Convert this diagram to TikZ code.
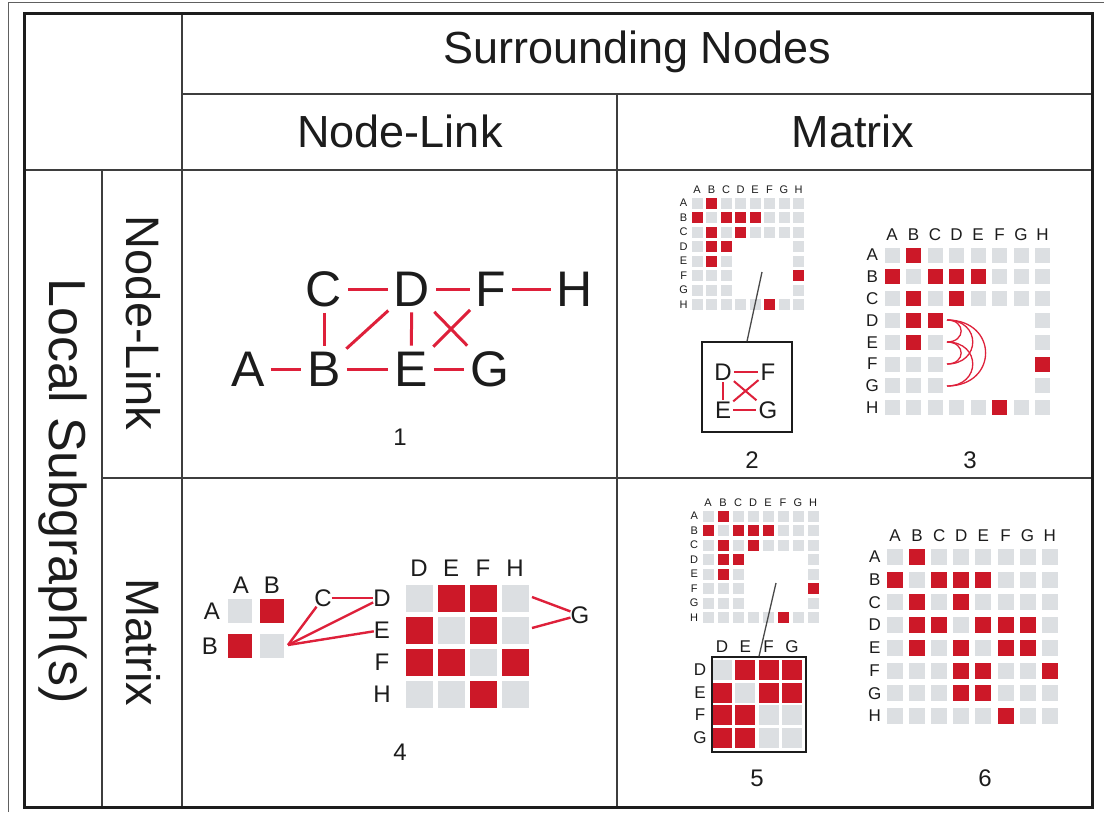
\documentclass[tikz,border=0pt]{standalone}
\usepackage{fontspec}
\setmainfont{Liberation Sans}

\definecolor{ink}{RGB}{28,28,28}
\definecolor{cellred}{RGB}{204,24,40}
\definecolor{linkred}{RGB}{222,32,58}
\definecolor{cellgray}{RGB}{220,223,226}

\newcommand{\fs}[1]{\fontsize{#1}{#1}\selectfont}

% red cells of the matrices (row/column index, A=1)
\def\partialred{1/2,2/1,2/3,2/4,2/5,3/2,3/4,4/2,4/3,5/2,6/8,8/6}
\def\fullred{1/2,2/1,2/3,2/4,2/5,3/2,3/4,4/2,4/3,4/5,4/6,4/7,5/2,5/4,5/6,5/7,6/4,6/5,6/8,7/4,7/5,8/6}

\tikzset{
  tableframe/.style={line width=3pt, draw=ink},
  tableline/.style={line width=1.8pt, draw=ink!85},
  head/.style={font=\fs{45}, text=ink},
  glyph/.style={font=\fs{50}, text=ink, inner sep=4pt},
  small/.style={font=\fs{24}, text=ink, inner sep=2pt},
  mlabel/.style={text=ink, inner sep=0pt},
  link/.style={draw=linkred, line width=3pt, shorten >=2pt, shorten <=2pt},
  thinlink/.style={draw=linkred, line width=2.4pt},
  arcline/.style={draw=linkred, line width=1.3pt},
  callout/.style={draw=ink!80, line width=1.3pt},
  redcell/.style={fill=cellred, inner sep=0pt},
  graycell/.style={fill=cellgray, inner sep=0pt},
}

% #1 name, #2/#3 centre of cell AA, #4/#5 pitch, #6 cell size,
% #7 label size, #8 leave D-G block empty (1/0), #9 red cells
\newcommand{\adjmat}[9]{%
  \foreach \rw [count=\i] in {A,B,C,D,E,F,G,H} {
    \node[mlabel, font=\fs{#7}] (#1-row\rw) at ({#2-0.92*#4},{#3+(\i-1)*#5}) {\rw};
    \node[mlabel, font=\fs{#7}] (#1-col\rw) at ({#2+(\i-1)*#4},{#3-0.92*#5}) {\rw};
    \foreach \cl [count=\j] in {A,B,C,D,E,F,G,H} {
      \pgfmathtruncatemacro\inblock{(\i>3)*(\i<8)*(\j>3)*(\j<8)*#8}
      \ifnum\inblock=0
        \node[graycell, minimum size=#6] (#1-\rw\cl) at ({#2+(\j-1)*#4},{#3+(\i-1)*#5}) {};
      \fi
    }
  }
  \foreach \i/\j in #9 {
    \node[redcell, minimum size=#6] (#1-on\i\j) at ({#2+(\j-1)*#4},{#3+(\i-1)*#5}) {};
  }
}

\begin{document}
\begin{tikzpicture}[x=1pt, y=-1pt]
  \useasboundingbox (0,0) rectangle (1104,812);
  \fill[white] (0,0) rectangle (1104,812);
  \draw[ink!70, line width=0.8pt] (8,812) |- (1104,2);

  % table
  \draw[tableline] (182,13) -- (182,807);
  \draw[tableline] (182,94) -- (1092,94);
  \draw[tableline] (24,170) -- (1092,170);
  \draw[tableline] (102,170) -- (102,807);
  \draw[tableline] (102,478) -- (1092,478);
  \draw[tableline] (617,94) -- (617,807);
  \draw[tableframe] (24,13) rectangle (1092,807);

  % headers
  \node[head] (surround) at (637,52) {Surrounding Nodes};
  \node[head] (colnl) at (400,131) {Node-Link};
  \node[head] (colmx) at (853,131) {Matrix};
  \node[head, font=\fs{52}, rotate=-90] (local) at (63,491) {Local Subgraph(s)};
  \node[head, font=\fs{47}, rotate=-90] (rownl) at (143,323) {Node-Link};
  \node[head, font=\fs{47}, rotate=-90] (rowmx) at (143,642) {Matrix};

  % 1: node-link in node-link
  \node[glyph] (A) at (248,369) {A};
  \node[glyph] (B) at (324,369) {B};
  \node[glyph] (E) at (411,369) {E};
  \node[glyph] (G) at (490,369) {G};
  \node[glyph] (C) at (324,289) {C};
  \node[glyph] (D) at (412,289) {D};
  \node[glyph] (F) at (491,289) {F};
  \node[glyph] (H) at (575,289) {H};
  \foreach \u/\v in {A/B,B/E,E/G,C/D,D/F,F/H,C/B,D/E,B/D,D/G,F/E}
    \draw[link] (\u) -- (\v);
  \node[small] (n1) at (400,437) {1};

  % 2: matrix with node-link inset
  \adjmat{m2}{697}{203}{14.5}{14.5}{11}{11}{1}{\partialred}
  \node[draw=ink, line width=1.3pt, minimum width=90, minimum height=90] (box2) at (747,387) {};
  \node[small] (D2) at (723,372) {D};
  \node[small] (F2) at (768,372) {F};
  \node[small] (E2) at (723,410) {E};
  \node[small] (G2) at (768,410) {G};
  \foreach \u/\v in {D2/F2,D2/E2,D2/G2,F2/E2,E2/G2}
    \draw[draw=linkred, line width=2pt] (\u) -- (\v);
  \coordinate (gap2) at (762,272);
  \draw[callout] (gap2) -- (box2.north);
  \node[small] (n2) at (752,460) {2};

  % 3: matrix with arcs
  \adjmat{m3}{892}{255}{21.5}{21.8}{15}{17}{1}{\partialred}
  \coordinate (a3D) at (947,320);
  \coordinate (a3E) at (947,342);
  \coordinate (a3F) at (947,364);
  \coordinate (a3G) at (947,386);
  \draw[arcline] (a3D) to[out=0, in=0, looseness=2.2] (a3E);
  \draw[arcline] (a3D) to[out=0, in=0, looseness=2] (a3F);
  \draw[arcline] (a3D) to[out=0, in=0, looseness=2] (a3G);
  \draw[arcline] (a3E) to[out=0, in=0, looseness=2.2] (a3F);
  \draw[arcline] (a3E) to[out=0, in=0, looseness=2] (a3G);
  \node[small] (n3) at (970,460) {3};

  % 4: two matrices joined by links
  \node[mlabel, font=\fs{24}] (r4A) at (212,611) {A};
  \node[mlabel, font=\fs{24}] (r4B) at (210,646) {B};
  \node[mlabel, font=\fs{24}] (c4A) at (241,585) {A};
  \node[mlabel, font=\fs{24}] (c4B) at (272,585) {B};
  \node[graycell, minimum size=24] (m4-AA) at (240,611) {};
  \node[redcell, minimum size=24] (m4-AB) at (272,611) {};
  \node[redcell, minimum size=24] (m4-BA) at (240,646) {};
  \node[graycell, minimum size=24] (m4-BB) at (272,646) {};
  \foreach \rw [count=\i] in {D,E,F,H} {
    \node[mlabel, font=\fs{24}] (r4\rw) at (382,{598+(\i-1)*32}) {\rw};
    \node[mlabel, font=\fs{24}] (c4\rw) at ({419+(\i-1)*32},568) {\rw};
    \foreach \cl [count=\j] in {D,E,F,H}
      \node[graycell, minimum size=27] (m4-\rw\cl) at ({419+(\j-1)*32},{598+(\i-1)*32}) {};
  }
  \foreach \i/\j in {1/2,1/3,2/1,2/3,3/1,3/2,3/4,4/3}
    \node[redcell, minimum size=27] (m4-on\i\j) at ({419+(\j-1)*32},{598+(\i-1)*32}) {};
  \node[mlabel, font=\fs{24}] (C4) at (323,598) {C};
  \node[mlabel, font=\fs{24}] (G4) at (580,615) {G};
  \coordinate (b4) at (288,645);
  \coordinate (d4end) at (532,597);
  \coordinate (e4end) at (532,628);
  \draw[thinlink] (b4) -- (C4);
  \draw[thinlink] (b4) -- (r4D);
  \draw[thinlink] (b4) -- (r4E);
  \draw[thinlink] (C4) -- (r4D);
  \draw[thinlink] (d4end) -- (G4);
  \draw[thinlink] (e4end) -- (G4);
  \node[small] (n4) at (400,752) {4};

  % 5: matrix with matrix inset
  \adjmat{m5}{708}{516}{15}{14.5}{11}{11}{1}{\partialred}
  \foreach \rw [count=\i] in {D,E,F,G} {
    \node[mlabel, font=\fs{17}] (r5\rw) at (700,{670+(\i-1)*22.5}) {\rw};
    \node[mlabel, font=\fs{17}] (c5\rw) at ({722+(\i-1)*23.3},647) {\rw};
    \foreach \cl [count=\j] in {D,E,F,G}
      \node[graycell, minimum size=20] (m5i-\rw\cl) at ({722+(\j-1)*23.3},{670+(\i-1)*22.5}) {};
  }
  \foreach \i/\j in {1/2,1/3,1/4,2/1,2/3,2/4,3/1,3/2,4/1,4/2}
    \node[redcell, minimum size=20] (m5i-on\i\j) at ({722+(\j-1)*23.3},{670+(\i-1)*22.5}) {};
  \node[draw=ink, line width=1.3pt, minimum width=94, minimum height=95] (box5) at (759,704.5) {};
  \coordinate (gap5) at (776,583);
  \draw[callout] (gap5) -- (box5.north);
  \node[small] (n5) at (757,778) {5};

  % 6: full matrix
  \adjmat{m6}{895}{557}{22.1}{22.7}{16}{17}{0}{\fullred}
  \node[small] (n6) at (985,778) {6};
\end{tikzpicture}
\end{document}
